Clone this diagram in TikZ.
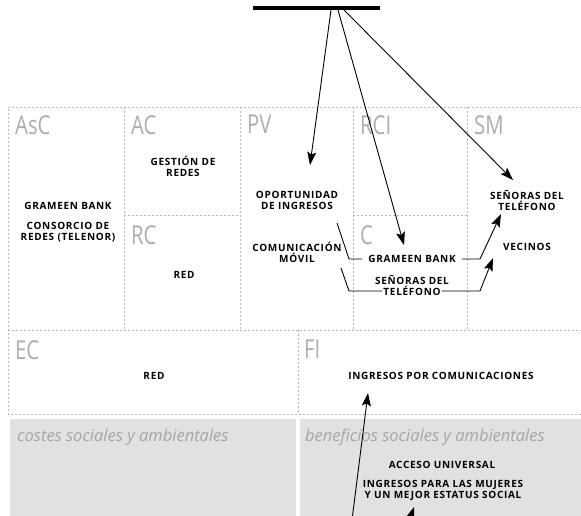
\documentclass[tikz,border=0pt]{standalone}
\usepackage{fontspec}
\setmainfont{Open Sans}
\newfontfamily\blockfont{Open Sans}[FakeStretch=0.78]
\newfontfamily\entryfont{Open Sans}[LetterSpace=7]
\usetikzlibrary{arrows.meta}
\tikzset{
  block/.style={font=\blockfont\fontsize{26}{26}\selectfont, text=blockcol, anchor=north west, inner sep=0pt},
  entry/.style={font=\entryfont\bfseries\fontsize{10}{11}\selectfont, align=center, inner sep=1pt},
  remark/.style={font=\itshape\fontsize{16.5}{16.5}\selectfont, text=remarkcol, anchor=west, inner sep=0pt},
  grid line/.style={gridcol, dash pattern=on 2pt off 2pt},
  link/.style={line width=0.9pt},
}

\begin{document}
\begin{tikzpicture}[x=1pt, y=-1pt, >={Stealth[length=13pt, width=9pt, inset=2.5pt]}]
  % Colours of the canvas.
  \colorlet{blockcol}{black!32}
  \colorlet{remarkcol}{black!35}
  \colorlet{gridcol}{black!28}
  \definecolor{shadecol}{RGB}{226,225,223}

  \useasboundingbox (0,0) rectangle (581,516);
  \clip (0,0) rectangle (581,516);

  % Shaded bottom blocks.
  \fill[shadecol] (10,419) rectangle (296,530);
  \fill[shadecol] (300,419) rectangle (590,530);

  % Dashed cell grid.
  \draw[grid line] (590,107) -- (8,107) -- (8,414) -- (590,414);
  \draw[grid line] (8,330) -- (590,330);
  \foreach \x in {124,240,353,467}
    \draw[grid line] (\x,107) -- (\x,330);
  \draw[grid line] (124,215) -- (240,215);
  \draw[grid line] (353,215) -- (467,215);
  \draw[grid line] (298,330) -- (298,414);

  % Block labels.
  \node[block] (asc) at (15,115) {AsC};
  \node[block] (ac)  at (131,115) {AC};
  \node[block] (rc)  at (131,225) {RC};
  \node[block] (pv)  at (247,115) {PV};
  \node[block] (rci) at (360,115) {RCI};
  \node[block] (c)   at (360,225) {C};
  \node[block] (sm)  at (474,115) {SM};
  \node[block] (ec)  at (15,340) {EC};
  \node[block] (fi)  at (304,340) {FI};

  \node[remark] (cos) at (17,437) {costes sociales y ambientales};
  \node[remark] (ben) at (305,437) {beneficios sociales y ambientales};

  % Entries.
  \node[entry] (gb)    at (68,206)  {GRAMEEN BANK};
  \node[entry] (crt)   at (68,232)  {CONSORCIO DE\\REDES (TELENOR)};
  \node[entry] (gdr)   at (183,166) {GESTIÓN DE\\REDES};
  \node[entry] (redrc) at (184,275) {RED};
  \node[entry] (opi)   at (297,200) {OPORTUNIDAD\\DE INGRESOS};
  \node[entry] (cmv)   at (297,252) {COMUNICACIÓN\\MÓVIL};
  \node[entry, inner xsep=6pt] (gbc) at (412,259) {GRAMEEN BANK};
  \node[entry] (senc)  at (412,280) {SEÑORAS DEL};
  \node[entry] (telc)  at (412,291) {TELÉFONO};
  \node[entry] (sensm) at (527,200) {SEÑORAS DEL\\TELÉFONO};
  \node[entry] (vec)   at (527,247) {VECINOS};
  \node[entry] (redec) at (154,376) {RED};
  \node[entry] (ipc)   at (441,376) {INGRESOS POR COMUNICACIONES};
  \node[entry] (acu)   at (442,465) {ACCESO UNIVERSAL};
  \node[entry] (ipm)   at (443,490) {INGRESOS PARA LAS MUJERES\\Y UN MEJOR ESTATUS SOCIAL};

  % Bar on top and its arrows.
  \draw[line width=4pt] (253,8) -- (380,8);
  \coordinate (s1) at (331,10);
  \coordinate (s2) at (338,10);
  \coordinate (s3) at (344,10);
  \coordinate (t1) at (310,165);
  \coordinate (t2) at (404,245);
  \coordinate (t3) at (513,180);
  \draw[link, ->] (s1) -- (t1);
  \draw[link, ->] (s2) -- (t2);
  \draw[link, ->] (s3) -- (t3);

  % Channel brackets.
  \coordinate (a1) at (337,223);
  \coordinate (a2) at (349,259);
  \coordinate (a3) at (480,259);
  \coordinate (a4) at (501,214);
  \draw[link] (a1) -- (a2) -- (gbc.west);
  \draw[link, ->] (gbc.east) -- (a3) -- (a4);

  \coordinate (b1) at (341,268);
  \coordinate (b2) at (349,291);
  \coordinate (b3) at (480,291);
  \coordinate (b4) at (493,258);
  \draw[link] (b1) -- (b2) -- (telc.west);
  \draw[link, ->] (telc.east) -- (b3) -- (b4);

  % Arrows from below.
  \coordinate (u1) at (352,520);
  \coordinate (v1) at (368,393);
  \coordinate (u2) at (406,530);
  \coordinate (v2) at (414,507);
  \draw[link, ->] (u1) -- (v1);
  \draw[link, ->] (u2) -- (v2);
\end{tikzpicture}
\end{document}
